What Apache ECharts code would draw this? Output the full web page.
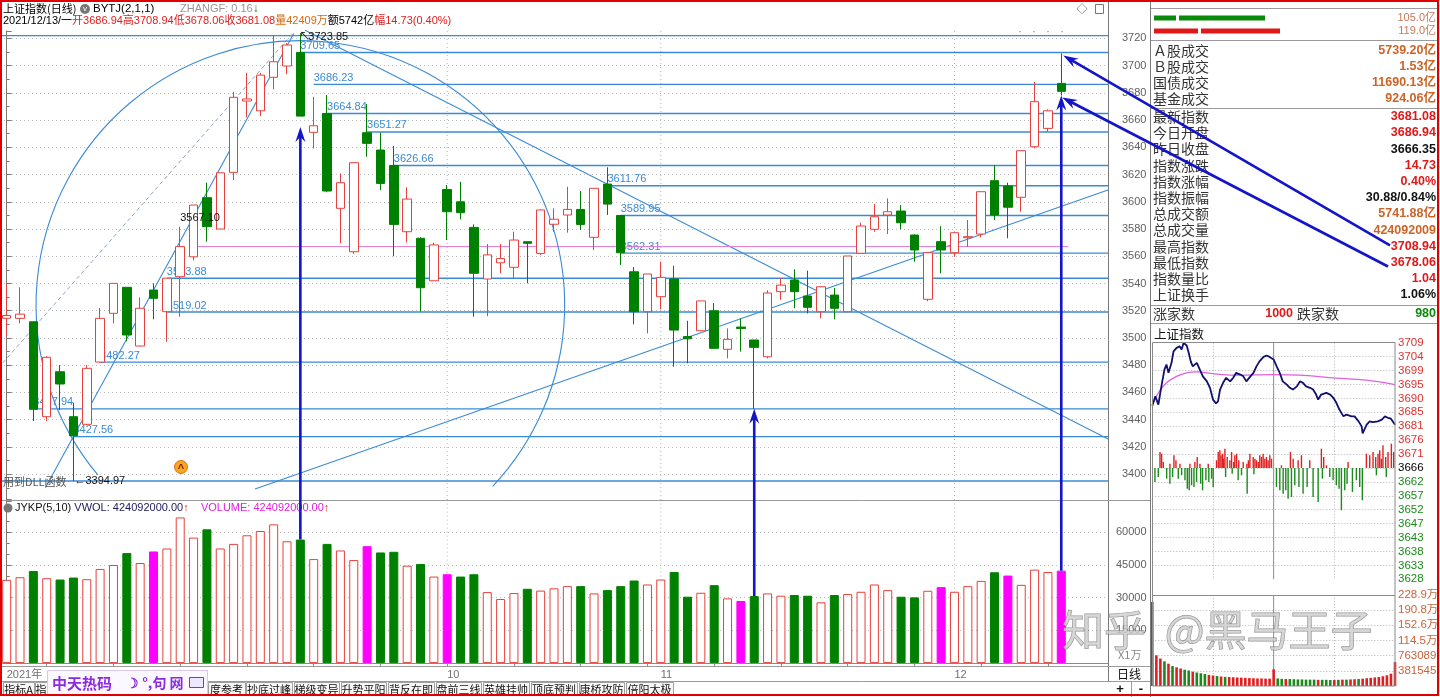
<!DOCTYPE html>
<html>
<head>
<meta charset="utf-8">
<title>上证指数(日线)</title>
<script src="https://cdn.jsdelivr.net/npm/echarts@6.0.0/dist/echarts.min.js"></script>
<style>
html,body{margin:0;padding:0;background:#fff;overflow:hidden;}
#chart{width:1440px;height:697px;}
</style>
</head>
<body>
<div id="chart"></div>
<script>
// ================= DATA =================
const dates = [
 '2021-08-13','2021-08-16','2021-08-17','2021-08-18','2021-08-19','2021-08-20','2021-08-23','2021-08-24','2021-08-25','2021-08-26','2021-08-27','2021-08-30','2021-08-31',
 '2021-09-01','2021-09-02','2021-09-03','2021-09-06','2021-09-07','2021-09-08','2021-09-09','2021-09-10','2021-09-13','2021-09-14','2021-09-15','2021-09-16','2021-09-17','2021-09-22','2021-09-23','2021-09-24','2021-09-27','2021-09-28','2021-09-29','2021-09-30',
 '2021-10-08','2021-10-11','2021-10-12','2021-10-13','2021-10-14','2021-10-15','2021-10-18','2021-10-19','2021-10-20','2021-10-21','2021-10-22','2021-10-25','2021-10-26','2021-10-27','2021-10-28','2021-10-29',
 '2021-11-01','2021-11-02','2021-11-03','2021-11-04','2021-11-05','2021-11-08','2021-11-09','2021-11-10','2021-11-11','2021-11-12','2021-11-15','2021-11-16','2021-11-17','2021-11-18','2021-11-19','2021-11-22','2021-11-23','2021-11-24','2021-11-25','2021-11-26','2021-11-29','2021-11-30',
 '2021-12-01','2021-12-02','2021-12-03','2021-12-06','2021-12-07','2021-12-08','2021-12-09','2021-12-10','2021-12-13'];
const opens  = [3514.5,3514.4,3511.9,3442.2,3475.2,3442.2,3436.6,3482.3,3518.1,3537.2,3494.1,3535.2,3519.3,
 3545,3559.6,3603,3580,3621.6,3674,3666.8,3691.4,3699.7,3709.65,3651,3664.84,3595.2,3563.3,3650.7,3638,3626.66,3578,3573.2,3542,
 3609,3600,3581.2,3543.3,3555.2,3551.9,3570.7,3562.1,3583.5,3590.3,3594.4,3573.9,3613,3589.95,3548.6,3519.3,
 3530.3,3543.3,3501,3505.3,3520,3491.7,3508,3498.5,3486.2,3534,3542.6,3530.8,3519.3,3531.5,3519.3,3562.2,3579.8,3590.3,3593.2,3575.6,3528.4,3570.7,
 3562.6,3573.6,3576.3,3615.5,3611.6,3603.3,3640.4,3653.9,3686.94];
const closes = [3516.5,3517.5,3447.6,3485.8,3466.2,3428.2,3477.7,3514.4,3540.1,3502.2,3521.8,3529.1,3543.9,
 3567.1,3597.6,3581.7,3621.3,3676.7,3675.5,3693,3702.8,3715.1,3662.9,3655.8,3607.9,3614,3628.7,3642.9,3613.5,3583.4,3602,3536.9,3568.3,
 3592.7,3592,3547.5,3561,3558.3,3571.9,3569.5,3594,3587.2,3594.4,3583.4,3609.9,3598.3,3562.6,3519.3,3547,
 3544.5,3505.8,3499.4,3527.2,3492.4,3499,3507,3493.1,3533,3538.8,3534,3522.5,3537.6,3521.8,3560.2,3582.2,3589,3592.7,3584.6,3564.6,3562.6,3564.6,
 3577.3,3574.4,3607.4,3590.3,3596,3637.5,3673.5,3666.8,3681.08];
const lows   = [3501,3510.8,3439,3439,3447.1,3394.97,3436,3482,3510.7,3497.5,3494,3513.7,3497.2,
 3515.6,3557,3570.7,3580,3616,3662,3663,3682.6,3693.6,3662.9,3639.2,3607,3569.5,3561.8,3633.1,3608.6,3560,3570.2,3519.3,3542,
 3572,3587,3515.6,3516,3547.5,3543.8,3540.1,3561,3578,3577.3,3579.3,3564.6,3590.3,3553.5,3510,3503.4,
 3521,3478.9,3481.4,3505,3492.4,3485,3490,3448,3485,3528,3521.8,3518,3514.4,3513.7,3519,3562,3578,3576.3,3579.8,3556,3527,3547.5,
 3559.6,3567,3573.9,3586.6,3573.2,3592.7,3639.2,3651.4,3678.06];
const highs  = [3540,3537.2,3512,3486.7,3480.1,3452.5,3480.1,3522,3540.1,3537.2,3529.8,3540.1,3543.9,
 3581.7,3597.6,3614,3621.3,3680.8,3694.7,3694.7,3722.4,3716.5,3723.85,3677.1,3678.4,3620.9,3628.7,3671.8,3650.7,3641,3610.6,3574,3570,
 3612.3,3614.7,3583.4,3569,3569,3578,3570.7,3594.4,3595.2,3611,3607.9,3609.9,3625.3,3589.95,3552,3547,
 3556,3553,3512.6,3527.2,3525.6,3507,3514.4,3498.5,3535,3544,3550.4,3549.4,3538,3536.7,3560.2,3584.7,3598.3,3602.5,3597.6,3576,3562.6,3582,
 3577.3,3586.6,3607.4,3627,3614,3637.5,3688.1,3667.9,3708.94];
// volume, unit: 万
const volumes = [38180,39390,42270,38940,38330,39240,38480,43180,45000,50450,
 45900,51210,52570,66810,57570,61360,52570,54690,58630,60600,
 63630,55900,56660,47720,54690,51660,47270,53630,50750,51060,
 44690,45450,39690,40750,39690,40750,32570,29390,32120,34090,
 33250,34300,35300,35300,31970,33480,35300,37880,36060,38330,
 41810,30450,32270,35750,29690,28480,30750,31970,30910,31210,
 30910,27880,31210,31660,32720,36060,33480,30450,30150,33180,
 34850,32720,35300,37720,41660,40150,35900,42870,41810,42409];
const magentaVolDays = [11,27,33,55,70,75,79];
const emptySlots = 3;
const monthStarts = [33,49,71];
const priceLabelRange = [3400,3720];
const volLabelRange = [15000,60000];

// drawn level lines: value, start index, label
const levelValues = [3722,3709.65,3686.23,3664.84,3651.27,3626.66,3611.76,3589.95,3562.31,3543.88,3519.02,3482.27,3447.94,3427.56,3394.97];
const levelStarts = [-0.5,22,23,24,27,29,45,46,46,12,12,7,2,5,-0.5];
const levelLabels = ['','3709.65','3686.23','3664.84','3651.27','3626.66','3611.76','3589.95','3562.31','3543.88','3519.02','3482.27','3447.94','3427.56',''];
// drawn trend segments: [idx1, v1, idx2, v2]
const trendLines = [[2.9,3390,21.5,3723.5],[22.35,3725.9,82.5,3425.8],[18.6,3389.1,82.5,3608.6],[-0.3,3481.6,21.45,3723.9],[14.1,3567.1,79.5,3567.1]];
const trendKinds = ['solid','solid','solid','dashed','pink'];
// drawn circle: center idx, center value, edge idx, start deg, end deg
const circleArc = [[22,3524.2,2.2,140,403.3]];
// arrows: day index and tip value
const arrowDays = [22,56,79];
const arrowTips = [3655,3448,3678];

// intraday (minute, value)
const prevClose = 3666.35, dayHigh = 3708.94;
const intradayPrice = [[0,3687.5],[3,3690.7],[6,3687.9],[9,3694.1],[12,3699.8],[14,3701.5],[16,3698.7],[19,3702.1],[21,3706.0],[24,3707.2],[27,3707.7],[29,3706.6],[31,3708.9],[34,3708.0],[36,3705.5],[38,3702.6],[40,3700.9],[44,3702.1],[47,3699.8],[50,3697.5],[54,3695.8],[57,3693.6],[60,3689.6],[63,3688.3],[65,3689.0],[67,3693.0],[70,3695.3],[73,3697.0],[77,3695.8],[80,3697.0],[83,3698.7],[87,3698.1],[90,3697.5],[93,3695.8],[97,3697.5],[100,3698.7],[103,3700.9],[106,3702.6],[110,3704.1],[113,3704.6],[116,3704.1],[120,3703.2],[123,3700.9],[126,3698.7],[129,3695.8],[133,3694.7],[136,3693.6],[139,3693.0],[143,3694.1],[146,3695.8],[149,3695.3],[152,3694.1],[156,3693.6],[159,3693.0],[162,3691.3],[164,3689.6],[167,3691.3],[172,3691.9],[176,3691.3],[179,3690.2],[182,3688.5],[185,3686.2],[189,3683.9],[192,3684.5],[197,3683.9],[200,3683.9],[204,3682.2],[207,3680.5],[208,3678.1],[212,3681.1],[215,3682.2],[218,3681.9],[223,3682.2],[227,3682.8],[230,3683.9],[233,3683.4],[236,3683.1],[240,3681.08]];
const intradayAvg = [[0,3687.9],[6,3691.9],[14,3695.3],[24,3697.5],[34,3698.7],[44,3699.0],[60,3698.4],[80,3697.9],[120,3698.1],[146,3697.9],[179,3697.0],[212,3696.2],[240,3694.7]];
const flowUp = [[7.6,16],[9.2,14.3],[10.9,6],[17.4,4.3],[21.4,12.7],[23.4,7.7],[27.3,4.3],[37.2,4.3],[42.1,6],[44.4,11],[47.1,4.3],[55.3,4.3],[63.5,7.7],[65.2,16],[66.8,17.7],[68,12.7],[69.5,14.3],[70.5,9.3],[71.8,19.3],[74.1,11],[76.7,7.7],[78.4,16],[80.5,6],[81.6,12.7],[83.3,14.3],[85.5,7.7],[89.9,6],[93.5,4.3],[95,7.7],[96.5,14.3],[99.8,11],[101.5,9.3],[103,7.7],[104.8,6],[106.3,12.7],[108,11],[109.6,14.3],[111.3,9.3],[112.9,11],[114.5,7.7],[116.2,12.7],[117.9,9.3],[127.7,2.7],[136.6,16],[139.3,9.3],[144.2,7.7],[147.5,12.7],[155.7,7.7],[167.2,19.3],[169.5,11],[172.2,2.7],[193.6,6],[211.7,14.3],[215,12.7],[218.3,16],[220.9,11],[223.2,14.3],[224.9,17.7],[226.5,9.3],[228.1,22.7],[230.8,11],[233.1,16],[236.4,24.3],[238.7,16]];
const flowDown = [[0,19],[2.6,14],[5.9,9],[14.2,10.7],[17.4,15.7],[20.1,9],[25.7,10.7],[29,7.3],[32.3,12.3],[34.6,20.7],[36.5,22.3],[38.8,17.3],[41.2,19],[43.8,14],[47.8,15.7],[49.7,22.3],[53,12.3],[55.9,14],[58.6,10.7],[60.2,19],[72.5,9],[79,5.7],[84.9,12.3],[88.2,7.3],[93.8,25.7],[100.5,6.3],[122.8,19],[126.1,22.3],[129.4,25.7],[132,22.3],[134.3,30.7],[137.6,29],[140.9,17.3],[145,19],[149.1,25.7],[153.1,19],[159,29],[164,34],[168.2,10.7],[175.5,9],[178.8,12.3],[182,17.3],[184.7,20.7],[187,42.3],[190.3,22.3],[192.6,15.7],[197.9,24],[201.8,12.3],[205.1,19],[207.7,32.3],[221.6,7.3],[231.4,9]];
const minuteVolStep = 4;
const minuteVols = [2113000,771000,690000,620000,560000,500000,470000,440000,410000,390000,360000,340000,320000,300000,280000,265000,250000,240000,230000,225000,220000,215000,210000,205000,200000,195000,190000,190000,185000,185000,420000,190000,180000,175000,175000,170000,165000,165000,160000,160000,160000,155000,155000,155000,150000,150000,155000,160000,160000,165000,170000,175000,185000,195000,205000,215000,225000,245000,270000,310000,600000];
const minuteVolUp = 'rrrgrgrrggrgggrrgrgrrrrrrrrrrrrggrgggggggrgggrgrgrrgrrrrrrrrr';

// ================= CHART =================
const FONT = "'Liberation Sans','Noto Sans CJK SC',sans-serif";
const CJK = "'Noto Sans CJK SC','Liberation Sans',sans-serif";
const BLUE = '#3a8bd6';
const cats = dates.concat(Array(emptySlots).fill(''));
const nCat = cats.length;
const stepI = (dayHigh - prevClose) / 9;
const volUnitI = 381544.6;

const candleData = dates.map((d,i)=>[opens[i],closes[i],lows[i],highs[i]]);
const volData = volumes.map((v,i)=>{
  let st;
  if (magentaVolDays.includes(i)) st = {color:'#ff00ff', borderColor:'#ff00ff', borderWidth:1};
  else if (closes[i] >= opens[i]) st = {color:'#ffffff', borderColor:'#e8403c', borderWidth:1};
  else st = {color:'#008000', borderColor:'#008000', borderWidth:1};
  return {value:v, itemStyle:st};
});
const flowData = flowUp.map(p=>({value:[p[0],p[1]], itemStyle:{color:'#e02020'}}))
  .concat(flowDown.map(p=>({value:[p[0],-p[1]], itemStyle:{color:'#1a8a1a'}})));
const mVolData = minuteVols.map((v,k)=>({value:[k*minuteVolStep, v], itemStyle:{color: minuteVolUp[k]==='g' ? '#1a8a1a' : '#e02020'}}));

const dotted = {color:'#bdbdbd', type:[1,3]};

function vline(params, api) {
  const cs = params.coordSys;
  const p = api.coord([api.value(0), api.value(1)]);
  return {type:'line', shape:{x1:p[0], y1:cs.y, x2:p[0], y2:cs.y+cs.height}, style:{stroke:'#b8b8b8', lineWidth:1, lineDash:[1,3]}};
}

const option = {
  animation:false,
  backgroundColor:'#ffffff',
  grid:[
    {left:0, top:31.0, width:1108, height:470.4, outerBoundsMode:'none'},
    {left:0, top:499.6, width:1108, height:163.5, outerBoundsMode:'none'},
    {left:1152.3, top:342.7, width:242.7, height:236.6, outerBoundsMode:'none'},
    {left:1152.3, top:594.9, width:242.7, height:91.1, outerBoundsMode:'none'}
  ],
  xAxis:[
    {type:'category', gridIndex:0, data:cats, boundaryGap:true, show:false},
    {type:'value', gridIndex:0, min:-0.5, max:nCat-0.5, show:false},
    {type:'category', gridIndex:1, data:cats, boundaryGap:true,
      axisLine:{show:true, lineStyle:{color:'#8a8a8a'}},
      axisTick:{show:true, alignWithLabel:true, length:3, interval:(i)=> i%5===3, lineStyle:{color:'#8a8a8a'}},
      axisLabel:{show:true, interval:(i)=> i===0 || monthStarts.includes(i), align:'left', margin:6, color:'#707070', fontSize:11, fontFamily:FONT,
        formatter:(val,i)=> i===0 ? '2021年' : String(parseInt(val.slice(5,7),10))},
      splitLine:{show:false}},
    {type:'value', gridIndex:1, min:-0.5, max:nCat-0.5, show:false},
    {type:'value', gridIndex:2, min:0, max:240, interval:60, axisLine:{show:false}, axisTick:{show:false}, axisLabel:{show:false},
      splitLine:{show:true, showMinLine:false, showMaxLine:false, lineStyle:{color:'#b5b5b5', type:[1,2]}}},
    {type:'value', gridIndex:3, min:0, max:240, interval:60, axisLine:{show:false}, axisTick:{show:false}, axisLabel:{show:false},
      splitLine:{show:true, showMinLine:false, showMaxLine:false, lineStyle:{color:'#b5b5b5', type:[1,2]}}}
  ],
  yAxis:[
    {type:'value', gridIndex:0, position:'right', min:3380, max:3725.4, interval:20,
      axisLine:{show:true, lineStyle:{color:'#7a7a7a'}},
      axisTick:{show:true, length:5, lineStyle:{color:'#7a7a7a'}},
      minorTick:{show:true, splitNumber:2, length:3, lineStyle:{color:'#7a7a7a'}},
      axisLabel:{margin:14, color:'#606060', fontSize:11, fontFamily:FONT,
        formatter:v=> (v>=priceLabelRange[0] && v<=priceLabelRange[1] && Math.abs(v%20)<1e-6) ? String(v) : ''},
      splitLine:{show:true, showMinLine:false, showMaxLine:false, lineStyle:dotted}},
    {type:'value', gridIndex:1, position:'right', min:0, max:75000, interval:15000,
      axisLine:{show:true, lineStyle:{color:'#7a7a7a'}},
      axisTick:{show:true, length:5, lineStyle:{color:'#7a7a7a'}},
      minorTick:{show:true, splitNumber:3, length:3, lineStyle:{color:'#7a7a7a'}},
      axisLabel:{margin:8, color:'#606060', fontSize:11, fontFamily:FONT,
        formatter:v=> (v>=volLabelRange[0] && v<=volLabelRange[1]) ? String(v) : ''},
      splitLine:{show:true, showMinLine:false, showMaxLine:false, lineStyle:dotted}},
    {type:'value', gridIndex:2, position:'right', min:-8, max:9, interval:1,
      axisLine:{show:false}, axisTick:{show:false},
      axisLabel:{margin:3, fontSize:11.5, fontFamily:FONT,
        formatter:v=> (prevClose + v*stepI).toFixed(0),
        color:(v)=>{ v=parseFloat(v); return v>0.01 ? '#e03030' : (v< -0.01 ? '#1a8a1a' : '#000000'); }},
      splitLine:{show:true, showMinLine:false, showMaxLine:false, lineStyle:{color:'#b5b5b5', type:[1,2]}}},
    {type:'value', gridIndex:2, min:prevClose-8*stepI, max:dayHigh, show:false},
    {type:'value', gridIndex:2, min:-8*13.92, max:9*13.92, show:false},
    {type:'value', gridIndex:3, position:'right', min:0, max:6*volUnitI, interval:volUnitI,
      axisLine:{show:false}, axisTick:{show:false},
      axisLabel:{margin:3, fontSize:11.5, fontFamily:FONT, color:'#c8643c',
        formatter:v=> v<=0 ? '' : (v>=1e6 ? (v/1e4).toFixed(1)+'万' : String(Math.round(v)))},
      splitLine:{show:true, showMinLine:false, showMaxLine:false, lineStyle:{color:'#b5b5b5', type:[1,2]}}}
  ],
  series:[
    {type:'custom', xAxisIndex:1, yAxisIndex:0, z:1, silent:true,
      data: levelValues.map((v,i)=>[levelStarts[i], v]),
      renderItem:(params, api)=>{
        const p = api.coord([api.value(0), api.value(1)]);
        const cs = params.coordSys;
        const ch = [{type:'line', shape:{x1:p[0], y1:p[1], x2:cs.x+cs.width, y2:p[1]}, style:{stroke:BLUE, lineWidth:1.4}}];
        const lab = levelLabels[params.dataIndex];
        if (lab) ch.push({type:'text', x:p[0], y:p[1]-1, style:{text:lab, fill:BLUE, font:'11px '+FONT, align:'left', verticalAlign:'bottom', textAlign:'left', textVerticalAlign:'bottom'}});
        return {type:'group', children:ch};
      }},
    {type:'custom', xAxisIndex:1, yAxisIndex:0, z:1, silent:true,
      data: trendLines,
      renderItem:(params, api)=>{
        const a = api.coord([api.value(0), api.value(1)]);
        const b = api.coord([api.value(2), api.value(3)]);
        const k = trendKinds[params.dataIndex];
        const st = k==='dashed' ? {stroke:'#8fa3c4', lineWidth:1, lineDash:[4,3]}
                 : k==='pink' ? {stroke:'#e07ae0', lineWidth:1}
                 : {stroke:BLUE, lineWidth:1.1};
        return {type:'line', shape:{x1:a[0], y1:a[1], x2:b[0], y2:b[1]}, style:st};
      }},
    {type:'custom', xAxisIndex:1, yAxisIndex:0, z:1, silent:true,
      data: circleArc,
      renderItem:(params, api)=>{
        const c = api.coord([api.value(0), api.value(1)]);
        const e = api.coord([api.value(2), api.value(1)]);
        const r = Math.abs(c[0]-e[0]);
        return {type:'arc', shape:{cx:c[0], cy:c[1], r:r, startAngle:api.value(3)*Math.PI/180, endAngle:api.value(4)*Math.PI/180, clockwise:true},
          style:{stroke:BLUE, lineWidth:1.1, fill:null}};
      }},
    {type:'custom', xAxisIndex:1, yAxisIndex:0, z:0, silent:true, data: monthStarts.map(m=>[m,3500]), renderItem:vline},
    {type:'custom', xAxisIndex:3, yAxisIndex:1, z:0, silent:true, data: monthStarts.map(m=>[m,30000]), renderItem:vline},
    {type:'candlestick', xAxisIndex:0, yAxisIndex:0, z:3, barWidth:9, data:candleData, silent:true,
      itemStyle:{color:'#ffffff', color0:'#008000', borderColor:'#e8403c', borderColor0:'#008000', borderWidth:1}},
    {type:'bar', xAxisIndex:2, yAxisIndex:1, z:3, barWidth:9, data:volData, silent:true},
    // intraday
    {type:'bar', xAxisIndex:4, yAxisIndex:4, barWidth:1.4, data:flowData, silent:true, z:2},
    {type:'line', xAxisIndex:4, yAxisIndex:3, data:intradayAvg, symbol:'none', smooth:0.3, silent:true, z:3, lineStyle:{color:'#e060e0', width:1.2}},
    {type:'line', xAxisIndex:4, yAxisIndex:3, data:intradayPrice, symbol:'none', silent:true, z:4, lineStyle:{color:'#10106e', width:1.8}},
    {type:'custom', xAxisIndex:4, yAxisIndex:3, z:1, silent:true, data:[[120,3666]],
      renderItem:(params, api)=>{ const cs=params.coordSys; const p=api.coord([api.value(0),api.value(1)]);
        return {type:'line', shape:{x1:p[0], y1:cs.y, x2:p[0], y2:cs.y+cs.height}, style:{stroke:'#909090', lineWidth:1}}; }},
    {type:'custom', xAxisIndex:5, yAxisIndex:5, z:1, silent:true, data:[[120,1]],
      renderItem:(params, api)=>{ const cs=params.coordSys; const p=api.coord([api.value(0),api.value(1)]);
        return {type:'line', shape:{x1:p[0], y1:cs.y, x2:p[0], y2:cs.y+cs.height}, style:{stroke:'#909090', lineWidth:1}}; }},
    {type:'bar', xAxisIndex:5, yAxisIndex:5, barWidth:2.6, data:mVolData, silent:true, z:2}
  ]
};

const chart = echarts.init(document.getElementById('chart'), null, {renderer:'canvas', width:1440, height:697});
chart.setOption(option);

// ================= GRAPHICS =================
function txt(text, x, y, o) {
  o = o || {};
  const align = o.align || 'left', va = o.va || 'middle';
  const st = {text:text, fill:o.color||'#000', font:(o.weight||'normal')+' '+(o.size||12)+'px '+(o.family||FONT),
    align:align, verticalAlign:va, textAlign:align, textVerticalAlign:va};
  if (o.stroke) { st.stroke = o.stroke; st.lineWidth = o.lw || 1; }
  if (o.rich) st.rich = o.rich;
  return {type:'text', x:x, y:y, z:o.z||60, silent:true, style:st};
}
function ln(x1,y1,x2,y2,color,w,z,dash) {
  return {type:'line', z:z||50, silent:true, shape:{x1:x1,y1:y1,x2:x2,y2:y2}, style:{stroke:color||'#909090', lineWidth:w||1, lineDash:dash||null}};
}
function box(x,y,w,h,fill,stroke,z,lw) {
  return {type:'rect', z:z||40, silent:true, shape:{x:x,y:y,width:w,height:h}, style:{fill:fill||'transparent', stroke:stroke||null, lineWidth:lw||1}};
}
function arrow(x1,y1,x2,y2,color,w) {
  const dx=x2-x1, dy=y2-y1, L=Math.hypot(dx,dy), ux=dx/L, uy=dy/L;
  const hl=15, hw=5;
  const bx=x2-ux*hl, by=y2-uy*hl;
  return [
    {type:'line', z:120, silent:true, shape:{x1:x1,y1:y1,x2:x2-ux*6,y2:y2-uy*6}, style:{stroke:color, lineWidth:w}},
    {type:'polygon', z:121, silent:true, shape:{points:[[x2,y2],[bx-uy*hw,by+ux*hw],[x2-ux*10,y2-uy*10],[bx+uy*hw,by-ux*hw]]}, style:{fill:color}}
  ];
}
const G = [];
const px = (i,v)=> chart.convertToPixel({xAxisIndex:1, yAxisIndex:0}, [i,v]);
const pxv = (i,v)=> chart.convertToPixel({xAxisIndex:3, yAxisIndex:1}, [i,v]);

// frame & separators
G.push(ln(1108.5,0,1108.5,681,'#7a7a7a',1,30));
G.push(ln(1150.5,0,1150.5,697,'#7a7a7a',1,30));
G.push(ln(0,500.5,1150,500.5,'#9a9a9a',1,30));
G.push(ln(0,666.5,1150,666.5,'#9a9a9a',1,30));
G.push(ln(0,681.5,1150,681.5,'#9a9a9a',1,30));

// header
G.push(txt('上证指数(日线)',3,9,{size:11,family:CJK}));
G.push({type:'circle', z:60, silent:true, shape:{cx:85,cy:9,r:5}, style:{fill:'#767676'}});
G.push(txt('v',85,8.5,{size:8,color:'#fff',align:'center'}));
G.push(txt('BYTJ(2,1,1)',93,9,{size:11.5}));
G.push(txt('{g|ZHANGF: 0.16}{a|↓}',180,9,{size:11,
  rich:{g:{fill:'#959595',font:'11px '+FONT},a:{fill:'#109010',font:'bold 12px '+FONT}}}));
G.push(txt('{k|2021/12/13/一}{r|开3686.94}{r|高3708.94}{r|低3678.06}{r|收3681.08}{o|量42409万}{k|额5742亿}{r|幅14.73(0.40%)}',3,21,{size:11,
  rich:{k:{fill:'#000',font:'11px '+FONT},r:{fill:'#e02020',font:'11px '+FONT},o:{fill:'#d06a10',font:'11px '+FONT}}}));
G.push(txt('◇',1082,10,{size:11,color:'#555',align:'center'}));
G.push(box(1095.5,4.5,8,9,'#fff','#777',60));
G.push(txt('·   ·   ·   ·',1018,32,{size:12,color:'#c07070'}));

// main chart annotations
const pHi22 = px(22, highs[22]);
G.push(txt('↖',pHi22[0]-1,pHi22[1]+4,{size:11,color:'#000'}));
G.push(txt('3723.85',pHi22[0]+8,pHi22[1]+4,{size:11,color:'#111'}));
const pHi13 = px(13, highs[13]);
G.push(txt('3567.10',pHi13[0],pHi13[1]-3,{size:11,color:'#111',va:'bottom'}));
const pLo5 = px(5, lows[5]);
G.push(txt('←3394.97',pLo5[0]+1,pLo5[1],{size:11,color:'#111'}));
G.push(txt('用到DLL函数',3,482,{size:11,color:'#555',family:CJK}));
G.push({type:'circle', z:60, silent:true, shape:{cx:181,cy:467,r:6.5}, style:{fill:'#f5a623', stroke:'#e07010', lineWidth:1}});
G.push(txt('^',181,469,{size:11,color:'#8a1a00',align:'center',weight:'bold'}));

// volume panel header
G.push({type:'circle', z:60, silent:true, shape:{cx:8,cy:508,r:4.5}, style:{fill:'#767676'}});
G.push(txt('{k|JYKP(5,10) }{b|VWOL: 424092000.00}{a|↑}{s|    }{m|VOLUME: 424092000.00}{a|↑}',15,508,{size:11,
  rich:{k:{fill:'#111',font:'11px '+FONT},b:{fill:'#202060',font:'11px '+FONT},a:{fill:'#e02020',font:'bold 11px '+FONT},s:{font:'11px '+FONT},m:{fill:'#e020e0',font:'11px '+FONT}}}));

// bottom-right small box
G.push(txt('X1万',1118,655,{size:11,color:'#888',family:CJK}));
G.push(txt('日线',1129,674,{size:12,color:'#111',family:CJK,align:'center'}));
G.push(ln(1108,681.5,1150,681.5,'#9a9a9a',1,30));
G.push(ln(1131.5,682,1131.5,697,'#9a9a9a',1,30));
G.push(txt('+',1120,689,{size:13,color:'#111',align:'center',weight:'bold'}));
G.push(txt('-',1141,689,{size:13,color:'#111',align:'center',weight:'bold'}));

// tabs
const tabNames = ['指标A','指','度参考','抄底过峰','梯级变异','升势平阳','背反在即','盘前三线','英雄挂帅','顶底预判','康桥攻防','倍阳太极'];
const tabEdges = [[3,34],[35,47],[208,245],[246,292],[294,339],[341,386],[388,434],[436,481],[483,529],[531,577],[579,624],[626,673]];
tabNames.forEach((t,i)=>{
  const e = tabEdges[i];
  G.push(box(e[0]+0.5,682.5,e[1]-e[0],13,'#f7f7f7','#a0a0a0',40));
  G.push(txt(t,(e[0]+e[1])/2,689.5,{size:11,family:CJK,align:'center',color:'#111'}));
});
// IME bar overlay
G.push(box(47.5,670.5,160,24,'#fbf8ff','#d8c8f0',70));
G.push(txt('中天热码',52,683,{size:15,family:CJK,color:'#8b2be0',weight:'bold',z:71}));
G.push(txt('☽ °,句 网',126,683,{size:14,family:CJK,color:'#8b2be0',weight:'bold',z:71}));
G.push(box(189.5,677.5,14,10,'#efe6ff','#8b2be0',71));

// right info panel
G.push(ln(1151,8.5,1437,8.5,'#9a9a9a',1,30));
G.push(box(1154,15.5,22,5,'#0a8a0a',null,40));
G.push(box(1179,15.5,86,5,'#0a8a0a',null,40));
G.push(box(1154,28.5,44,5,'#e01818',null,40));
G.push(box(1201,28.5,79,5,'#e01818',null,40));
G.push(txt('105.0亿',1436,18,{size:11,color:'#c8785a',align:'right'}));
G.push(txt('119.0亿',1436,31,{size:11,color:'#c8785a',align:'right'}));
G.push(ln(1151,40.5,1437,40.5,'#9a9a9a',1,30));
const colorMap = {o:'#cc6428', r:'#e01818', k:'#111111', g:'#0a8a0a'};
const rowsA = [['Ａ股成交','5739.20亿','o'],['Ｂ股成交','1.53亿','o'],['国债成交','11690.13亿','o'],['基金成交','924.06亿','o']];
const rowsB = [['最新指数','3681.08','r'],['今日开盘','3686.94','r'],['昨日收盘','3666.35','k'],['指数涨跌','14.73','r'],['指数涨幅','0.40%','r'],['指数振幅','30.88/0.84%','k'],['总成交额','5741.88亿','o'],['总成交量','424092009','o'],['最高指数','3708.94','r'],['最低指数','3678.06','r'],['指数量比','1.04','r'],['上证换手','1.06%','k']];
rowsA.forEach((r,i)=>{
  const y = 50.7 + i*16.1;
  G.push(txt(r[0],1153,y,{size:14,family:CJK,color:'#333'}));
  G.push(txt(r[1],1436,y,{size:12.5,weight:'bold',color:colorMap[r[2]],align:'right'}));
});
G.push(ln(1151,108.5,1437,108.5,'#9a9a9a',1,30));
rowsB.forEach((r,i)=>{
  const y = 116.7 + i*16.2;
  G.push(txt(r[0],1153,y,{size:14,family:CJK,color:'#333'}));
  G.push(txt(r[1],1436,y,{size:12.5,weight:'bold',color:colorMap[r[2]],align:'right'}));
});
G.push(ln(1151,305.5,1437,305.5,'#9a9a9a',1,30));
G.push(txt('涨家数',1153,314,{size:14,family:CJK,color:'#333'}));
G.push(txt('1000',1293,314,{size:12.5,weight:'bold',color:'#e01818',align:'right'}));
G.push(txt('跌家数',1297,314,{size:14,family:CJK,color:'#333'}));
G.push(txt('980',1436,314,{size:12.5,weight:'bold',color:'#0a8a0a',align:'right'}));
G.push(ln(1151,323.5,1437,323.5,'#9a9a9a',1,30));
G.push(txt('上证指数',1154,334,{size:12.5,family:CJK,color:'#111'}));
G.push(box(1152.5,342.5,242.5,343.5,'transparent','#8a8a8a',45));
G.push(ln(1152.5,595.5,1395,595.5,'#8a8a8a',1,45));

// arrows
const ABLUE = '#1414c8';
arrowDays.forEach((d,i)=>{
  const base = pxv(d, volumes[d]);
  const tip = px(d, arrowTips[i]);
  arrow(tip[0], base[1], tip[0], tip[1], ABLUE, 2.6).forEach(e=>G.push(e));
});
const lastIdx = dates.length-1;
const tHi = px(lastIdx, highs[lastIdx]);
const tLo = px(lastIdx, lows[lastIdx]);
arrow(1390, 116.7+8*16.2-1, tHi[0]+2, tHi[1]+2, ABLUE, 2.6).forEach(e=>G.push(e));
arrow(1388, 116.7+9*16.2+4, tLo[0]+1, tLo[1]+2, ABLUE, 2.6).forEach(e=>G.push(e));

// watermark
G.push(txt('知乎  @黑马王子',1062,630,{size:42,family:CJK,color:'rgba(205,205,205,0.78)',stroke:'rgba(110,110,110,0.75)',lw:1,z:150}));

// border
G.push(box(1,1,1437,694,'transparent','#e00000',200,2));

chart.setOption({graphic:G});
</script>
</body>
</html>
